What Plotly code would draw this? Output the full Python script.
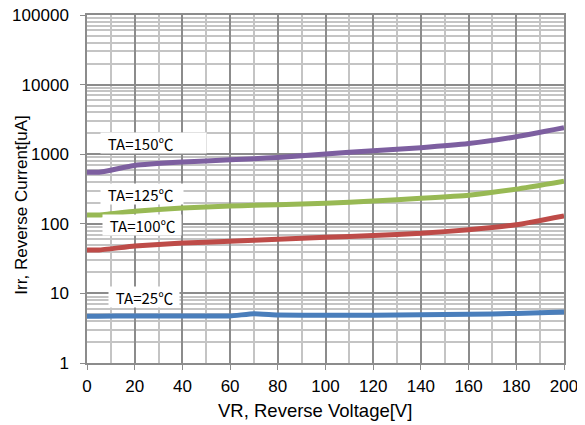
import math
import plotly.graph_objects as go

vr = [0, 5, 20, 40, 60, 70, 80, 100, 120, 140, 160, 180, 200]
i_150 = [550, 550, 690, 770, 830, 860, 900, 1010, 1120, 1240, 1420, 1780, 2400]
i_125 = [134, 134, 152, 168, 180, 184, 188, 198, 212, 232, 258, 315, 410]
i_100 = [42, 42, 48, 53, 56, 58, 60, 64, 68, 73, 82, 97, 130]
i_25 = [4.7, 4.7, 4.75, 4.75, 4.75, 5.1, 4.9, 4.85, 4.85, 4.95, 5.0, 5.15, 5.4]

labels = ["TA=150℃", "TA=125℃", "TA=100℃", "TA=25℃"]
label_y = [1425, 272, 94.6, 8.88]
label_x = [5.4, 5.4, 6.2, 9.0]
label_w = [105, 82, 78, 70]

ytick_vals = [1, 10, 100, 1000, 10000, 100000]
ytick_text = ["1", "10", "100", "1000", "10000", "100000"]

x_title = "VR, Reverse Voltage[V]"
y_title = "Irr, Reverse Current[uA]"

series = [
    (i_25, "#4a7ebb"),
    (i_100, "#be4b48"),
    (i_125, "#98b954"),
    (i_150, "#7d5fa0"),
]

fig = go.Figure()
for ys, col in series:
    fig.add_trace(go.Scatter(x=vr, y=ys, mode="lines",
                             line=dict(color=col, width=5, shape="spline", smoothing=0.4),
                             showlegend=False))

for t, yv, xv, w in zip(labels, label_y, label_x, label_w):
    fig.add_annotation(x=xv, y=math.log10(yv), text="&nbsp;&nbsp;" + t, showarrow=False,
                       xanchor="left", yanchor="middle", bgcolor="white", align="left",
                       width=w, height=20,
                       font=dict(family="Noto Sans CJK JP", size=15, color="black"),
                       borderpad=0)

fig.add_annotation(x=0.479, y=-0.137, xref="paper", yref="paper", text=x_title,
                   showarrow=False, xanchor="center", yanchor="middle",
                   font=dict(family="Liberation Sans", size=18.5, color="black"))
fig.add_annotation(x=-0.138, y=0.4555, xref="paper", yref="paper", text=y_title,
                   showarrow=False, xanchor="center", yanchor="middle", textangle=-90,
                   font=dict(family="Liberation Sans", size=17, color="black"))

fig.update_layout(
    width=577, height=417,
    margin=dict(l=79, r=21, t=7, b=62),
    paper_bgcolor="white", plot_bgcolor="white",
    font=dict(family="Liberation Sans", size=17, color="black"),
)
fig.update_xaxes(range=[0, 200], dtick=20, showgrid=True, gridcolor="#8c8c8c", gridwidth=1.5,
                 minor=dict(dtick=10, showgrid=True, gridcolor="#c4c4c4", gridwidth=1.5),
                 ticks="outside", ticklen=5, tickcolor="#8c8c8c", automargin=False,
                 showline=True, linecolor="#8c8c8c", linewidth=1.5, mirror=True, zeroline=False,
                 ticklabelstandoff=2, tickfont=dict(size=17))
fig.update_yaxes(type="log", range=[0, 5], tickvals=ytick_vals, ticktext=ytick_text,
                 showgrid=True, gridcolor="#8c8c8c", gridwidth=1.5,
                 minor=dict(dtick="D1", showgrid=True, gridcolor="#c4c4c4", gridwidth=1.5),
                 ticks="outside", ticklen=5, tickcolor="#8c8c8c", automargin=False,
                 showline=True, linecolor="#8c8c8c", linewidth=1.5, mirror=True, zeroline=False,
                 ticklabelstandoff=8, ticklabeloverflow="allow", tickfont=dict(size=17))

fig.write_html("out.html")
